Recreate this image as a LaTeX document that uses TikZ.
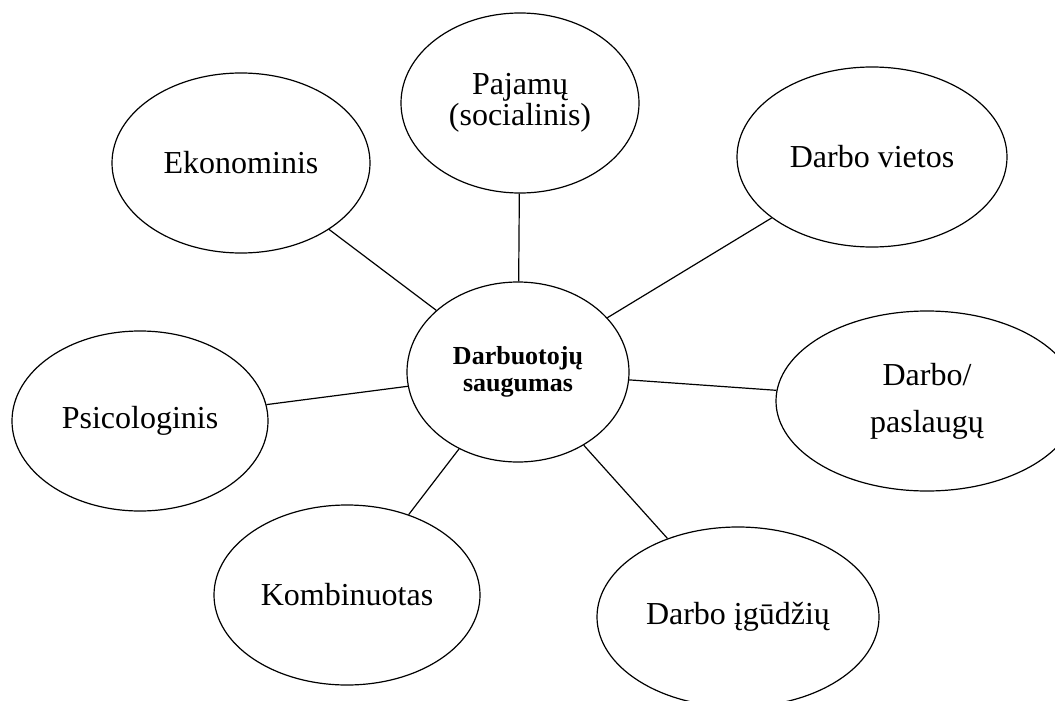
\documentclass[tikz,border=0pt]{standalone}
\usepackage{fontspec}
\setmainfont{Liberation Serif}
\usetikzlibrary{shapes.geometric}
\begin{document}
\begin{tikzpicture}[x=1pt,y=-1pt,
  bubble/.style={ellipse,draw,line width=1.2pt,inner sep=0pt,align=center,
    minimum height=180pt,font=\fontsize{32}{31}\selectfont},
  link/.style={line width=1.2pt}]
\useasboundingbox (0,0) rectangle (1055,701);
\clip (0,0) rectangle (1055,701);

% central concept
\node[bubble,minimum width=222pt,font=\bfseries\fontsize{26}{27}\selectfont]
  (core) at (518,372) {Darbuotojų\\saugumas};

% surrounding aspects
\node[bubble,minimum width=258pt] (eko)  at (241,163) {Ekonominis};
\node[bubble,minimum width=238pt] (paj)  at (520,103) {Pajamų\\(socialinis)};
\node[bubble,minimum width=270pt] (viet) at (872,157) {Darbo vietos};
\node[bubble,minimum width=302pt,font=\fontsize{32}{47}\selectfont]
  (pasl) at (927,401) {Darbo/\\paslaugų};
\node[bubble,minimum width=256pt] (psi)  at (140,421) {Psicologinis};
\node[bubble,minimum width=266pt] (komb) at (347,595) {Kombinuotas};
\node[bubble,minimum width=282pt] (igud) at (738,617) {Darbo įgūdžių};

% spokes
\foreach \n in {eko,paj,viet,pasl,psi,komb,igud}
  \draw[link] (core) -- (\n);
\end{tikzpicture}
\end{document}
